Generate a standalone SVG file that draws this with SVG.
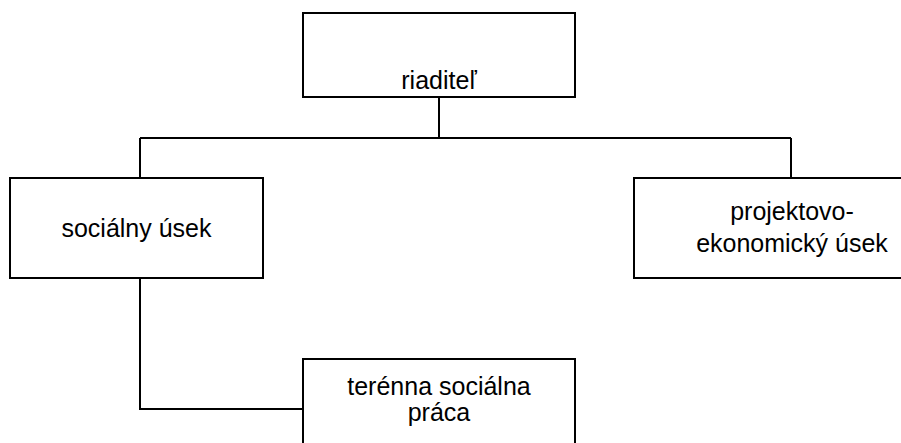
<svg xmlns="http://www.w3.org/2000/svg" width="901" height="443" viewBox="0 0 901 443">
<style>
.box{fill:#fff;stroke:#000;stroke-width:2}
.ln{fill:none;stroke:#000;stroke-width:2}
text{font-family:"Liberation Sans",Arial,sans-serif;font-size:25px;fill:#000;text-anchor:middle}
</style>
<rect width="901" height="443" fill="#fff"/>
<g id="connectors">
<path class="ln" d="M439 97 V138"/>
<path class="ln" d="M140 138 H791"/>
<path class="ln" d="M140 138 V178"/>
<path class="ln" d="M791 138 V178"/>
<path class="ln" d="M140 278 V409 H303"/>
</g>
<g id="riaditel">
<rect class="box" x="303" y="13" width="272" height="84"/>
<text x="439" y="89">riaditeľ</text>
</g>
<g id="socialny-usek">
<rect class="box" x="10" y="178" width="253" height="100"/>
<text x="136.5" y="237">sociálny úsek</text>
</g>
<g id="projektovo-ekonomicky-usek">
<rect class="box" x="634" y="178" width="320" height="100"/>
<text x="792" y="220">projektovo-</text>
<text x="792" y="252">ekonomický úsek</text>
</g>
<g id="terenna-socialna-praca">
<rect class="box" x="303" y="359" width="272" height="100"/>
<text x="439" y="395">terénna sociálna</text>
<text x="439" y="421">práca</text>
</g>
</svg>
